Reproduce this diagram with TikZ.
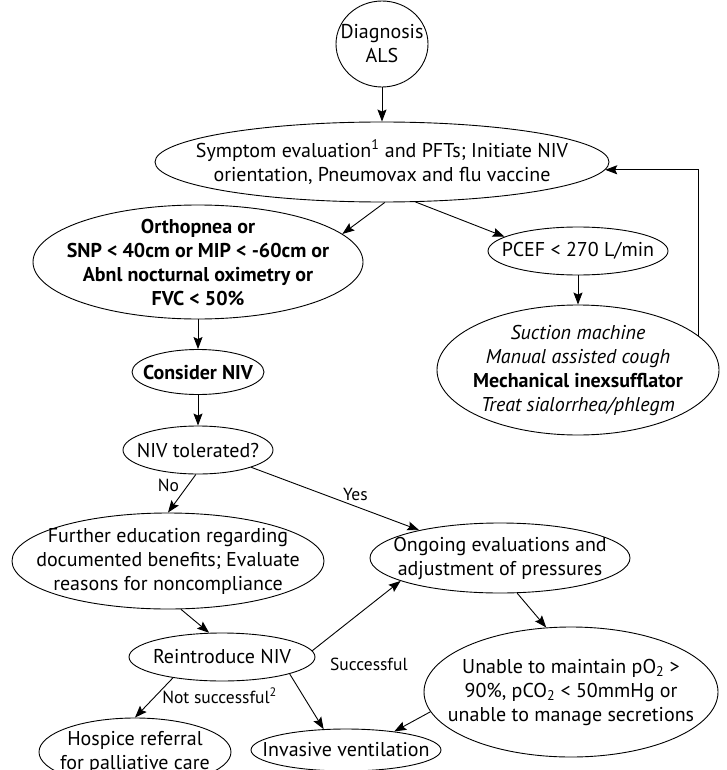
\documentclass[tikz,border=0pt]{standalone}
\usepackage{fontspec}
\setmainfont{PT Sans}
\usetikzlibrary{shapes.geometric, positioning, arrows.meta}

\newcommand{\boxfont}{\fontsize{20}{24}\selectfont}
\newcommand{\lblfont}{\fontsize{17.5}{20}\selectfont}

\tikzset{
  oval/.style 2 args={draw, ellipse, inner sep=-300pt, align=center,
    minimum width=#1, minimum height=#2, font=\boxfont},
  lbl/.style={font=\lblfont, inner sep=2pt},
}

\begin{document}
\begin{tikzpicture}
	[x=1pt, y=-1pt, on grid, line width=0.9pt,
	 >={Stealth[length=12pt, width=9pt, inset=2pt]}]
   \useasboundingbox (0,0) rectangle (726,770);
   \node[oval={92pt}{86pt}] (diag) at (382,44) {Diagnosis\\ALS};
   \node[oval={454pt}{80pt}] (sym) [below=118pt of diag]
     {Symptom evaluation\textsuperscript{1} and PFTs; Initiate NIV\\orientation, Pneumovax and flu vaccine};
   \node[oval={330pt}{114pt}, font=\boxfont\bfseries] (orth) [below left=100pt and 184pt of sym]
     {Orthopnea or\\SNP < 40cm or MIP < -60cm or\\Abnl nocturnal oximetry or\\FVC < 50\%};
   \node[oval={180pt}{48pt}] (pcef) [below right=89pt and 196pt of sym] {PCEF < 270 L/min};
   \node[oval={282pt}{130pt}] (suct) [below=119pt of pcef]
     {\textit{Suction machine}\\\textit{Manual assisted cough}\\\textbf{Mechanical inexsufflator}\\\textit{Treat sialorrhea/phlegm}};
   \node[oval={132pt}{45pt}, font=\boxfont\bfseries] (cons) [below=110pt of orth] {Consider NIV};
   \node[oval={150pt}{48pt}] (tol) [below=78pt of cons] {NIV tolerated?};
   \node[oval={312pt}{96pt}] (edu) [below left=111pt and 30pt of tol]
     {Further education regarding\\documented benefits; Evaluate\\reasons for noncompliance};
   \node[oval={260pt}{70pt}] (ongo) [below right=108pt and 302pt of tol]
     {Ongoing evaluations and\\adjustment of pressures};
   \node[oval={186pt}{48pt}] (reint) [below right=96pt and 54pt of edu] {Reintroduce NIV};
   \node[oval={294pt}{130pt}] (unab) [below right=134pt and 71pt of ongo]
     {Unable to maintain pO\textsubscript{2} >\\90\%, pCO\textsubscript{2} < 50mmHg or\\unable to manage secretions};
   \node[oval={192pt}{68pt}] (hosp) [below left=95pt and 87pt of reint]
     {Hospice referral\\for palliative care};
   \node[oval={190pt}{42pt}] (inv) [below right=93pt and 124pt of reint] {Invasive ventilation};
   \path[->]
    (diag) edge (sym)
    (sym.-86) edge (orth.11)
    (sym.-50) edge (pcef.169)
    (pcef) edge (suct)
    (orth) edge (cons)
    (cons) edge (tol)
    (tol.265) edge node[lbl, pos=.3, left=6pt] {No} (edu.north)
    (tol.-18) edge node[lbl, pos=.62, above=3pt] {Yes} (ongo.161)
    (edu.-75) edge (reint.118)
    (reint.4) edge node[lbl, pos=.05, below right=8pt and 11pt] {Successful} (ongo.-167)
    (ongo.-64) edge (unab.111)
    (reint.-157) edge node[lbl, pos=.45, right=4pt] {Not successful\textsuperscript{2}} (hosp.north)
    (reint.-14) edge (inv.137)
    (unab.-172) edge (inv.21);
   \draw[->] (suct.16) |- (sym.-2);
\end{tikzpicture}
\end{document}
